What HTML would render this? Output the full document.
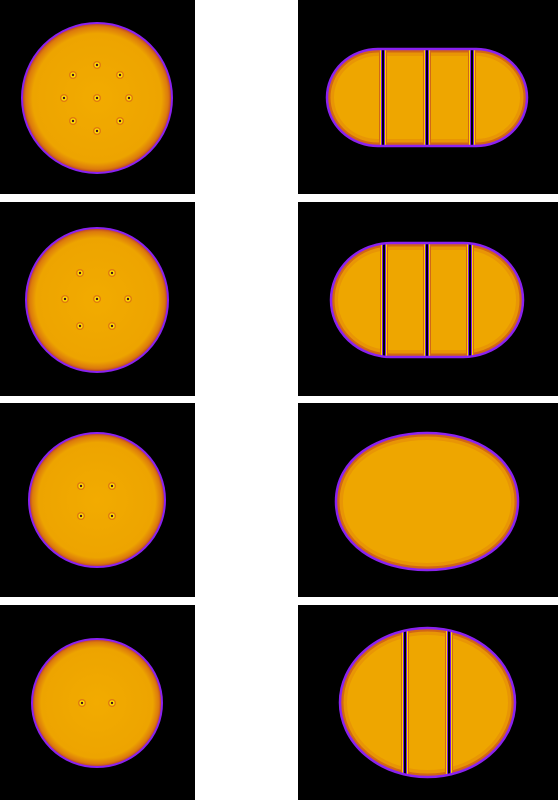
<!DOCTYPE html>
<html><head><meta charset="utf-8">
<style>html,body{margin:0;padding:0;background:#fff;width:558px;height:800px;overflow:hidden}svg{display:block}</style>
</head><body>
<svg id="fig" width="558" height="800" viewBox="0 0 558 800" xmlns="http://www.w3.org/2000/svg">
<defs>
<radialGradient id="drop" cx="0.5" cy="0.5" r="0.5">
<stop offset="0" stop-color="#f2ab00"/>
<stop offset="0.86" stop-color="#eda400"/>
<stop offset="0.95" stop-color="#dc7a0c"/>
<stop offset="1" stop-color="#b83a30"/>
</radialGradient>
</defs>
</svg>
<script>
const NS='http://www.w3.org/2000/svg';
const svg=document.getElementById('fig');
// panel rectangles [x,y,w,h]
const panelsLeft=[[0,0,195,194],[0,202,195,194],[0,403,195,194],[0,605,195,195]];
const panelsRight=[[298,0,260,194],[298,202,260,194],[298,403,260,194],[298,605,260,195]];
// left droplets: cx, cy, rx, ry
const leftDrops=[[97,98,75,75],[97,300,71,72],[97,500,68,67],[97,703,65,64]];
const leftVortices=[
 [[97,65],[73,75],[120,75],[64,98],[97,98],[129,98],[73,121],[120,121],[97,131]],
 [[80,273],[112,273],[65,299],[97,299],[128,299],[80,326],[112,326]],
 [[81,486],[112,486],[81,516],[112,516]],
 [[82,703],[112,703]]
];
// right shapes: type, x0, x1, y0, y1, splits
const rightShapes=[
 ['stadium',327,527,49,146,[383,427,472]],
 ['stadium',331,523,243,357,[384,427,470]],
 ['rounded',336,518,433,570,[]],
 ['ellipse',340,515,628,777,[405,449]]
];
function el(tag,attrs,parent){const e=document.createElementNS(NS,tag);for(const k in attrs)e.setAttribute(k,attrs[k]);(parent||svg).appendChild(e);return e;}
panelsLeft.concat(panelsRight).forEach((p,i)=>{
 const r=el('rect',{x:p[0],y:p[1],width:p[2],height:p[3],fill:'#000'});
 
 
});
leftDrops.forEach((d,i)=>{
 const e=el('ellipse',{cx:d[0],cy:d[1],rx:d[2],ry:d[3],fill:'url(#drop)',stroke:'#8a22f0','stroke-width':2});
 
 
 leftVortices[i].forEach((v,j)=>{
  const g=el('g',{});
  
  
  el('circle',{cx:v[0],cy:v[1],r:4,fill:'#e07a10'},g);
  el('circle',{cx:v[0],cy:v[1],r:2.6,fill:'#ffe000'},g);
  el('circle',{cx:v[0],cy:v[1],r:1.2,fill:'#401020'},g);
 });
});
function shapePath(s){
 const [t,x0,x1,y0,y1]=s;const cy=(y0+y1)/2,ry=(y1-y0)/2;
 if(t==='ellipse'){const cx=(x0+x1)/2,rx=(x1-x0)/2;
  return `M${x0},${cy} A${rx},${ry} 0 1 1 ${x1},${cy} A${rx},${ry} 0 1 1 ${x0},${cy}Z`;}
 if(t==='rounded'){const cx=(x0+x1)/2,rx=(x1-x0)/2,k=0.62;
  return `M${x0},${cy} C${x0},${cy-ry*k} ${cx-rx*0.55},${y0} ${cx},${y0} C${cx+rx*0.55},${y0} ${x1},${cy-ry*k} ${x1},${cy} C${x1},${cy+ry*k} ${cx+rx*0.55},${y1} ${cx},${y1} C${cx-rx*0.55},${y1} ${x0},${cy+ry*k} ${x0},${cy}Z`;}
 const ax=ry*1.05;
 return `M${x0+ax},${y0} L${x1-ax},${y0} A${ax},${ry} 0 0 1 ${x1-ax},${y1} L${x0+ax},${y1} A${ax},${ry} 0 0 1 ${x0+ax},${y0}Z`;
}
rightShapes.forEach((s,i)=>{
 const g=el('g',{});
 
 
 const d=shapePath(s);
 const cp=el('clipPath',{id:'cp'+i},svg.querySelector('defs'));
 el('path',{d:d},cp);
 el('path',{d:d,fill:'#eea600'},g);
 const cg=el('g',{'clip-path':'url(#cp'+i+')'},g);
 el('path',{d:d,fill:'none',stroke:'#e48a08','stroke-width':14,opacity:0.6},cg);
 el('path',{d:d,fill:'none',stroke:'#cc5a18','stroke-width':7,opacity:0.8},cg);
 s[5].forEach(x=>{
  const b=el('g',{},cg);
  
  
  el('rect',{x:x-4,y:s[3]-2,width:8,height:s[4]-s[3]+4,fill:'#d06818'},b);
  el('rect',{x:x-3,y:s[3]-2,width:1,height:s[4]-s[3]+4,fill:'#ffd000'},b);
  el('rect',{x:x+2,y:s[3]-2,width:1,height:s[4]-s[3]+4,fill:'#ffd000'},b);
  el('rect',{x:x-2,y:s[3]-2,width:4,height:s[4]-s[3]+4,fill:'#7a20e0'},b);
  el('rect',{x:x-1,y:s[3]-2,width:2,height:s[4]-s[3]+4,fill:'#000'},b);
 });
 el('path',{d:d,fill:'none',stroke:'#8a22f0','stroke-width':2.5},g);
});
</script>
</body></html>
